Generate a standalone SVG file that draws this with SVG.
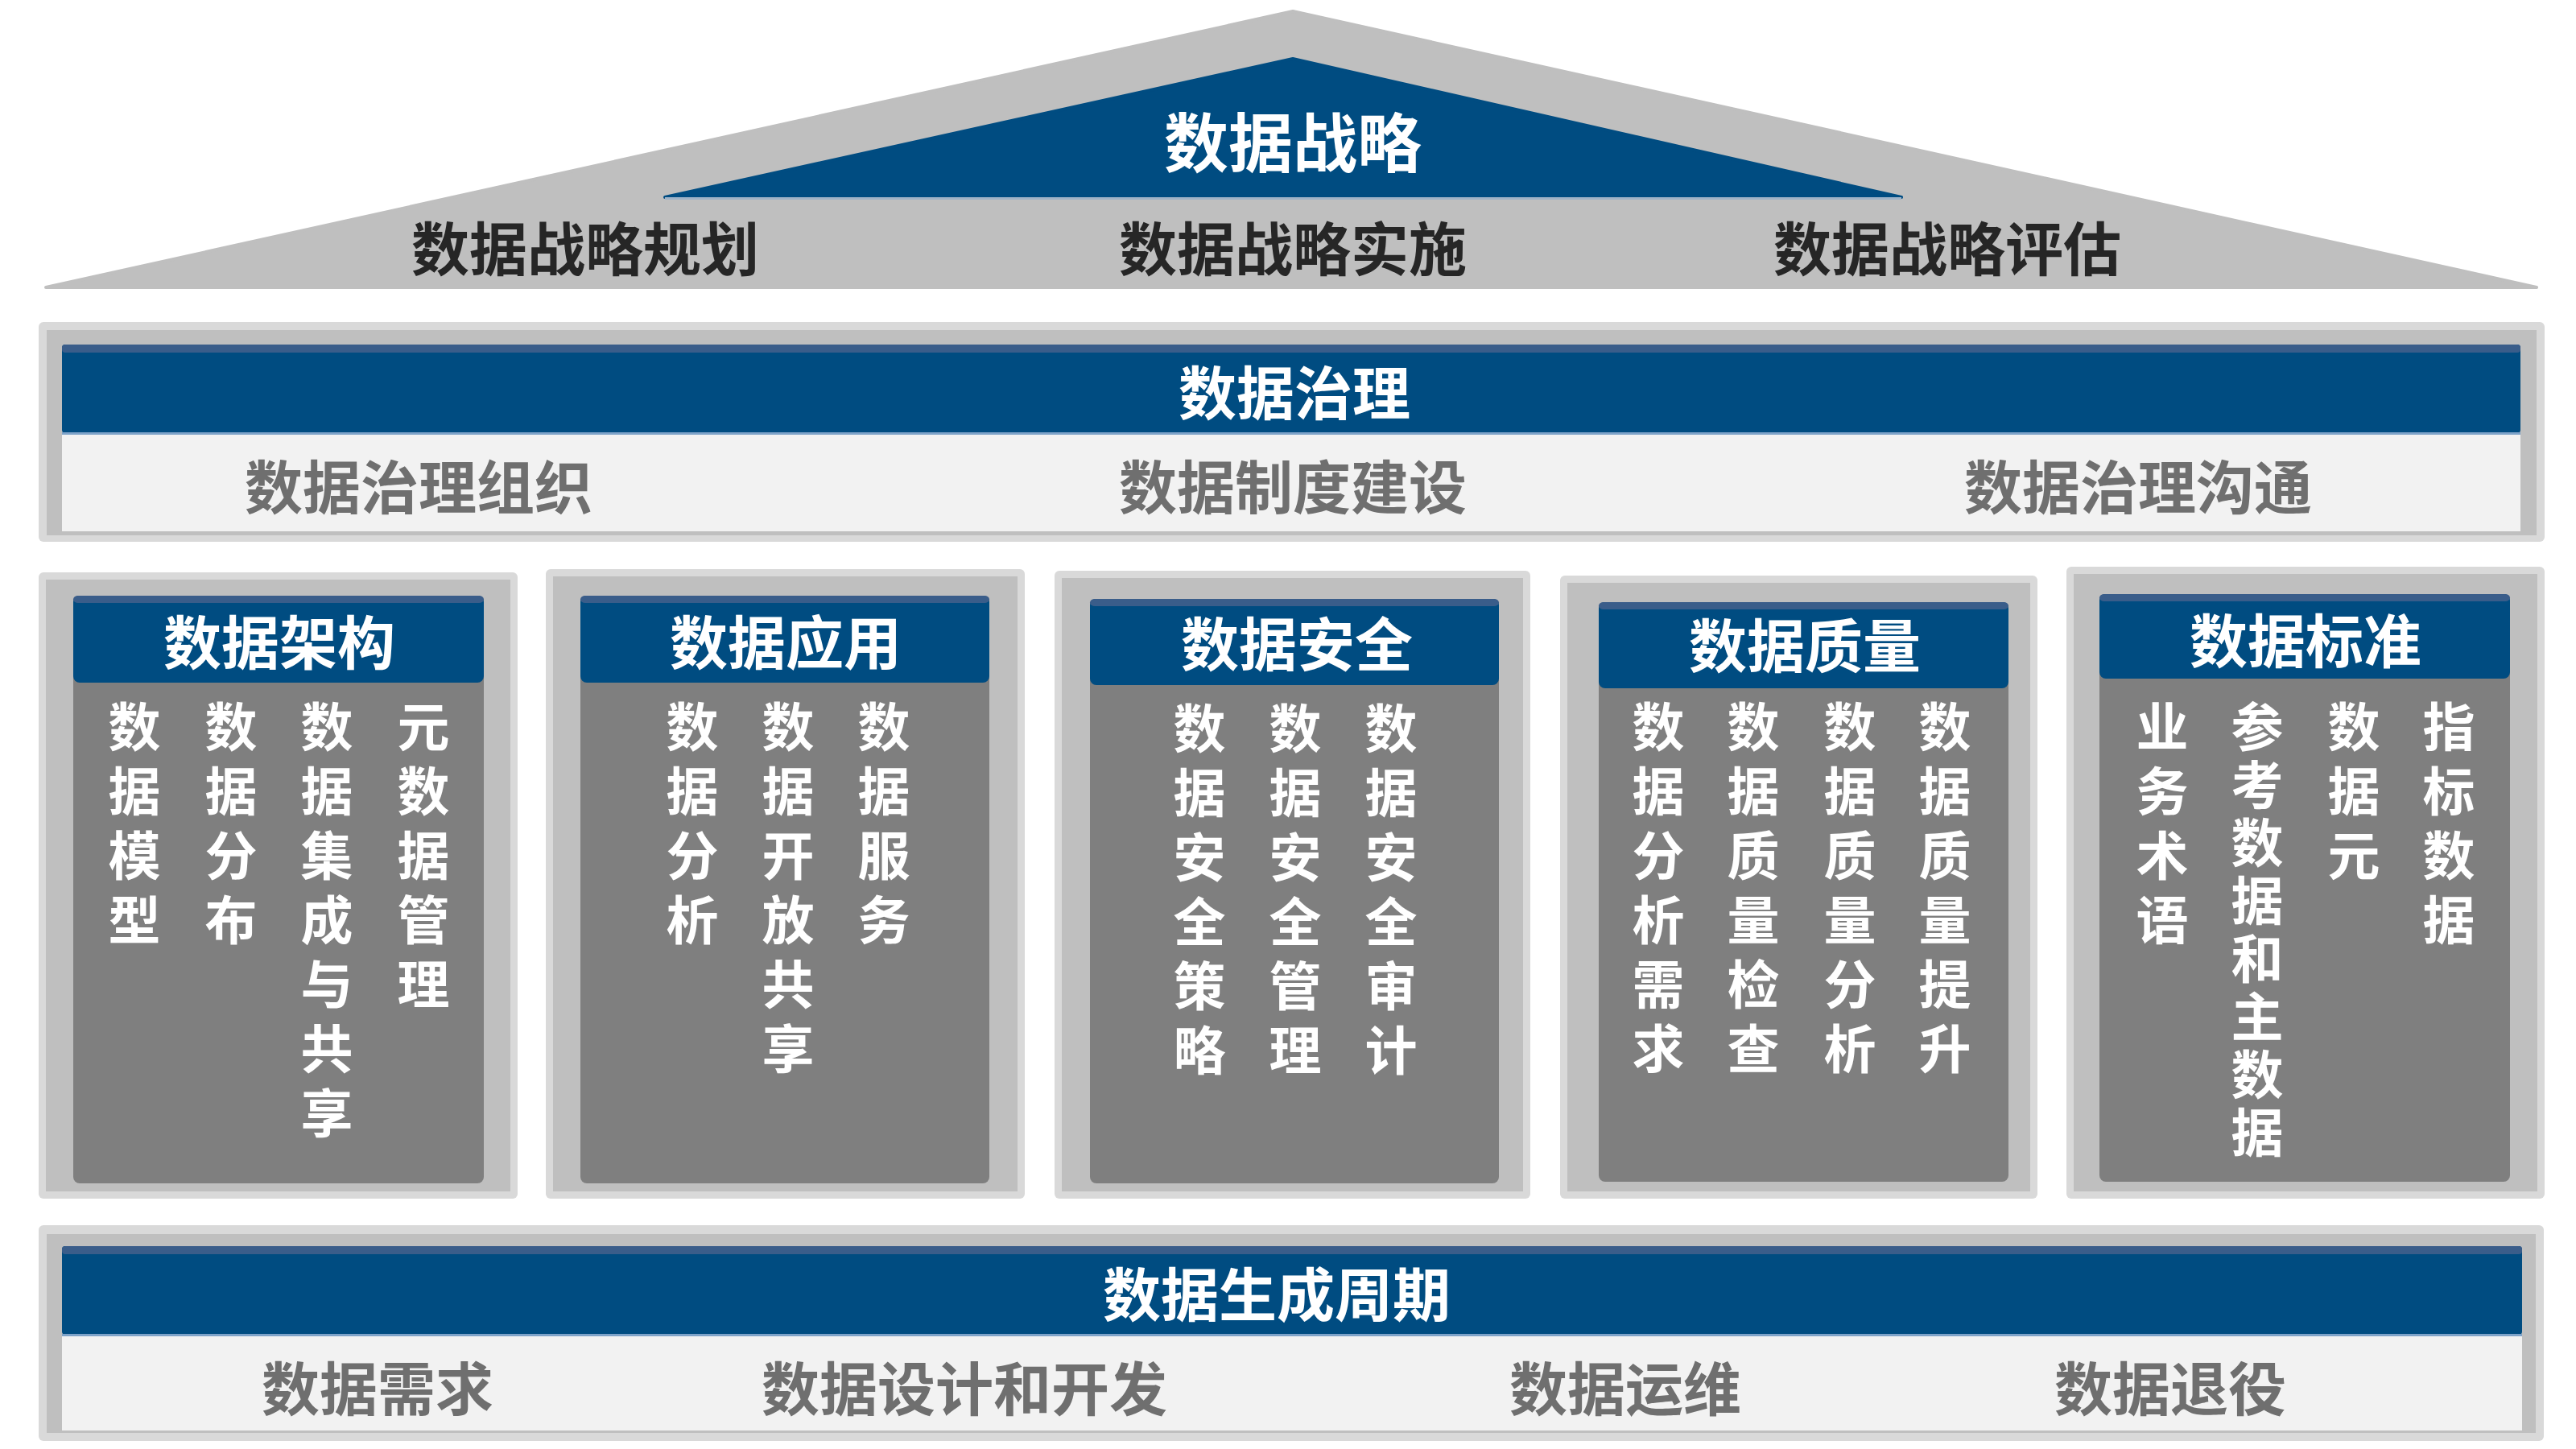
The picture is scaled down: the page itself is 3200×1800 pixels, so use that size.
<svg xmlns="http://www.w3.org/2000/svg" width="3200" height="1800" viewBox="0 0 3200 1800">
<style>
  text { font-family: "Noto Sans CJK SC", "Noto Sans", sans-serif; font-weight: 700; }
  .frame { fill: #d9d9d9; }
  .frameIn { fill: #bfbfbf; }
  .blue { fill: #004c81; }
  .blueTop { fill: #3a5d8a; }
  .blueLine { fill: #7ea3c9; }
  .light { fill: #f2f2f2; }
  .body { fill: #7f7f7f; }
  .tTitle { fill: #ffffff; font-size: 72px; text-anchor: middle; }
  .tBig { fill: #ffffff; font-size: 80px; text-anchor: middle; }
  .tDark { fill: #262626; font-size: 72px; text-anchor: middle; }
  .tGray { fill: #6f6f6f; font-size: 72px; text-anchor: middle; }
  .tCol { fill: #ffffff; font-size: 65px; writing-mode: vertical-rl; text-orientation: upright; letter-spacing: 15px; }
  .tCol2 { letter-spacing: 7px; }
</style>
<rect width="3200" height="1800" fill="#ffffff"/>

<g id="strategy">
  <polygon points="57,357 1606,14 3151,357" fill="#bfbfbf" stroke="#bfbfbf" stroke-width="4" stroke-linejoin="round"/>
  <polygon points="826,245 1606,73 2362,245" class="blue" stroke="#004c81" stroke-width="4" stroke-linejoin="round"/>
  <rect x="826" y="245" width="1536" height="3" fill="#9fb3c8"/>
  <text class="tBig" x="1606" y="207">数据战略</text>
  <text class="tDark" x="727" y="336">数据战略规划</text>
  <text class="tDark" x="1606" y="336">数据战略实施</text>
  <text class="tDark" x="2419" y="336">数据战略评估</text>
</g>

<g id="governance">
  <rect class="frame" x="48" y="400" width="3113" height="273" rx="6"/>
  <rect class="frameIn" x="58" y="410" width="3093" height="255"/>
  <rect class="blue" x="77" y="428" width="3054" height="110" rx="4"/>
  <rect class="blueTop" x="77" y="428" width="3054" height="10" rx="4"/>
  <rect class="light" x="77" y="538" width="3054" height="122"/>
  <rect class="blueLine" x="77" y="537" width="3054" height="3"/>
  <text class="tTitle" x="1608" y="515">数据治理</text>
  <text class="tGray" x="520" y="632">数据治理组织</text>
  <text class="tGray" x="1606" y="632">数据制度建设</text>
  <text class="tGray" x="2656" y="632">数据治理沟通</text>
</g>

<g id="architecture">
  <rect class="frame" x="48" y="711" width="595" height="778" rx="6"/>
  <rect class="frameIn" x="57" y="720" width="577" height="760"/>
  <rect class="body" x="91" y="740" width="510" height="730" rx="8"/>
  <rect class="blue" x="91" y="740" width="510" height="108" rx="8"/>
  <rect class="blueTop" x="91" y="740" width="510" height="9" rx="6"/>
  <text class="tTitle" x="347" y="825">数据架构</text>
  <text class="tCol" x="167" y="870">数据模型</text>
  <text class="tCol" x="287" y="870">数据分布</text>
  <text class="tCol" x="406" y="870">数据集成与共享</text>
  <text class="tCol" x="526" y="870">元数据管理</text>
</g>

<g id="application">
  <rect class="frame" x="678" y="707" width="595" height="782" rx="6"/>
  <rect class="frameIn" x="687" y="716" width="577" height="764"/>
  <rect class="body" x="721" y="740" width="508" height="730" rx="8"/>
  <rect class="blue" x="721" y="740" width="508" height="108" rx="8"/>
  <rect class="blueTop" x="721" y="740" width="508" height="9" rx="6"/>
  <text class="tTitle" x="976" y="825">数据应用</text>
  <text class="tCol" x="860" y="870">数据分析</text>
  <text class="tCol" x="979" y="870">数据开放共享</text>
  <text class="tCol" x="1098" y="870">数据服务</text>
</g>

<g id="security">
  <rect class="frame" x="1310" y="709" width="591" height="780" rx="6"/>
  <rect class="frameIn" x="1319" y="718" width="573" height="762"/>
  <rect class="body" x="1354" y="744" width="508" height="726" rx="8"/>
  <rect class="blue" x="1354" y="744" width="508" height="107" rx="8"/>
  <rect class="blueTop" x="1354" y="744" width="508" height="9" rx="6"/>
  <text class="tTitle" x="1611" y="827">数据安全</text>
  <text class="tCol" x="1490" y="872">数据安全策略</text>
  <text class="tCol" x="1609" y="872">数据安全管理</text>
  <text class="tCol" x="1728" y="872">数据安全审计</text>
</g>

<g id="quality">
  <rect class="frame" x="1938" y="715" width="593" height="774" rx="6"/>
  <rect class="frameIn" x="1947" y="724" width="575" height="756"/>
  <rect class="body" x="1986" y="748" width="509" height="720" rx="8"/>
  <rect class="blue" x="1986" y="748" width="509" height="107" rx="8"/>
  <rect class="blueTop" x="1986" y="748" width="509" height="9" rx="6"/>
  <text class="tTitle" x="2242" y="829">数据质量</text>
  <text class="tCol" x="2060" y="870">数据分析需求</text>
  <text class="tCol" x="2178" y="870">数据质量检查</text>
  <text class="tCol" x="2298" y="870">数据质量分析</text>
  <text class="tCol" x="2416" y="870">数据质量提升</text>
</g>

<g id="standards">
  <rect class="frame" x="2567" y="704" width="594" height="785" rx="6"/>
  <rect class="frameIn" x="2576" y="713" width="576" height="767"/>
  <rect class="body" x="2608" y="738" width="510" height="730" rx="8"/>
  <rect class="blue" x="2608" y="738" width="510" height="105" rx="8"/>
  <rect class="blueTop" x="2608" y="738" width="510" height="9" rx="6"/>
  <text class="tTitle" x="2864" y="823">数据标准</text>
  <text class="tCol" x="2686" y="870">业务术语</text>
  <text class="tCol tCol2" x="2804" y="870">参考数据和主数据</text>
  <text class="tCol" x="2924" y="870">数据元</text>
  <text class="tCol" x="3042" y="870">指标数据</text>
</g>

<g id="lifecycle">
  <rect class="frame" x="48" y="1522" width="3112" height="268" rx="6"/>
  <rect class="frameIn" x="58" y="1533" width="3092" height="247"/>
  <rect class="blue" x="77" y="1548" width="3056" height="110" rx="4"/>
  <rect class="blueTop" x="77" y="1548" width="3056" height="10" rx="4"/>
  <rect class="light" x="77" y="1658" width="3056" height="119"/>
  <rect class="blueLine" x="77" y="1657" width="3056" height="3"/>
  <text class="tTitle" x="1586" y="1635">数据生成周期</text>
  <text class="tGray" x="469" y="1752">数据需求</text>
  <text class="tGray" x="1198" y="1752">数据设计和开发</text>
  <text class="tGray" x="2019" y="1752">数据运维</text>
  <text class="tGray" x="2696" y="1752">数据退役</text>
</g>

<g id="connectors"></g>
</svg>
